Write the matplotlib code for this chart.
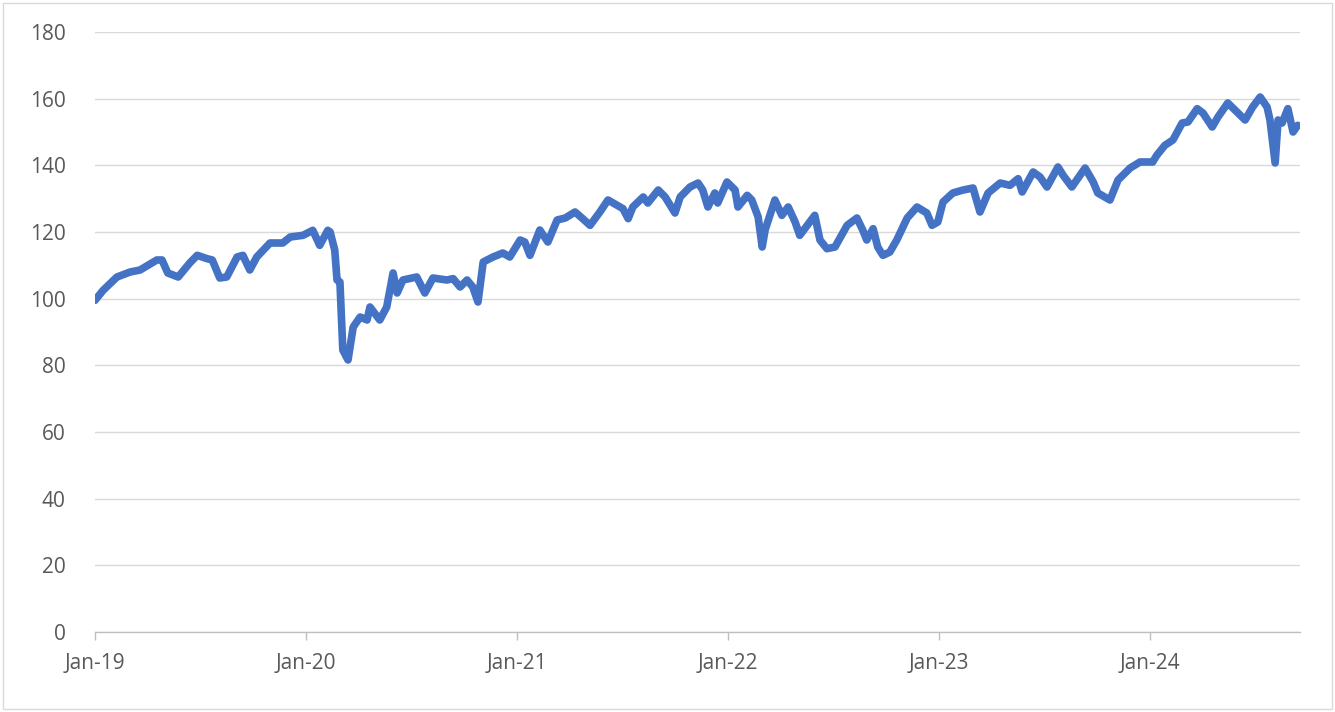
import numpy as np
import pandas as pd
import matplotlib
matplotlib.use("Agg")
import matplotlib.pyplot as plt
import matplotlib.dates as mdates
from matplotlib.patches import Rectangle

# index level (approx.)
dates = [
    "2019-01-01", "2019-01-15", "2019-02-08", "2019-03-03", "2019-03-20", "2019-04-18",
    "2019-04-27", "2019-05-07", "2019-05-25", "2019-06-14", "2019-06-27", "2019-07-14",
    "2019-07-23", "2019-08-05", "2019-08-17", "2019-09-04", "2019-09-14", "2019-09-26",
    "2019-10-08", "2019-10-31", "2019-11-22", "2019-12-05", "2019-12-27", "2020-01-13",
    "2020-01-25", "2020-02-08", "2020-02-12", "2020-02-20", "2020-02-24", "2020-02-29",
    "2020-03-05", "2020-03-14", "2020-03-23", "2020-04-04", "2020-04-16", "2020-04-21",
    "2020-05-08", "2020-05-20", "2020-05-31", "2020-06-07", "2020-06-17", "2020-07-11",
    "2020-07-25", "2020-08-08", "2020-09-01", "2020-09-12", "2020-09-24", "2020-10-06",
    "2020-10-16", "2020-10-25", "2020-11-03", "2020-11-20", "2020-12-07", "2020-12-19",
    "2021-01-06", "2021-01-14", "2021-01-23", "2021-02-09", "2021-02-23", "2021-03-11",
    "2021-03-25", "2021-04-11", "2021-04-23", "2021-05-07", "2021-05-24", "2021-06-07",
    "2021-06-23", "2021-07-03", "2021-07-12", "2021-07-20", "2021-08-07", "2021-08-15",
    "2021-09-02", "2021-09-14", "2021-10-01", "2021-10-10", "2021-10-27", "2021-11-10",
    "2021-11-18", "2021-11-27", "2021-12-09", "2021-12-14", "2021-12-30", "2022-01-13",
    "2022-01-18", "2022-02-03", "2022-02-11", "2022-02-22", "2022-03-01", "2022-03-06",
    "2022-03-23", "2022-04-04", "2022-04-15", "2022-04-27", "2022-05-05", "2022-05-18",
    "2022-05-31", "2022-06-09", "2022-06-21", "2022-07-05", "2022-07-26", "2022-08-12",
    "2022-08-22", "2022-08-29", "2022-09-09", "2022-09-17", "2022-09-26", "2022-10-08",
    "2022-10-20", "2022-11-07", "2022-11-24", "2022-12-11", "2022-12-20", "2022-12-30",
    "2023-01-08", "2023-01-25", "2023-02-12", "2023-03-01", "2023-03-13", "2023-03-27",
    "2023-04-17", "2023-05-04", "2023-05-18", "2023-05-25", "2023-06-13", "2023-06-25",
    "2023-07-07", "2023-07-26", "2023-08-04", "2023-08-19", "2023-09-11", "2023-09-25",
    "2023-10-03", "2023-10-24", "2023-11-07", "2023-11-28", "2023-12-15", "2024-01-06",
    "2024-01-13", "2024-01-27", "2024-02-10", "2024-02-26", "2024-03-07", "2024-03-23",
    "2024-04-02", "2024-04-18", "2024-04-28", "2024-05-15", "2024-05-31", "2024-06-14",
    "2024-06-27", "2024-07-10", "2024-07-22", "2024-07-27", "2024-08-05", "2024-08-10",
    "2024-08-17", "2024-08-27", "2024-09-05", "2024-09-13",
]
values = [
    99.5, 102.5, 106.5, 108.0, 108.6, 111.6,
    111.6, 107.7, 106.5, 110.7, 113.0, 112.0,
    111.6, 106.2, 106.5, 112.5, 113.0, 108.6,
    112.5, 116.7, 116.7, 118.5, 119.0, 120.5,
    116.0, 120.5, 120.0, 114.6, 105.6, 105.0,
    84.6, 81.6, 91.5, 94.5, 93.6, 97.5,
    93.6, 97.5, 107.7, 101.7, 105.6, 106.5,
    101.7, 106.2, 105.6, 106.0, 103.5, 105.6,
    103.5, 99.0, 111.0, 112.5, 113.7, 112.5,
    117.6, 117.0, 113.0, 120.6, 117.0, 123.6,
    124.2, 126.0, 124.2, 122.0, 126.0, 129.6,
    128.0, 127.0, 124.0, 127.5, 130.5, 128.7,
    132.6, 130.5, 125.7, 130.5, 133.5, 134.7,
    132.6, 127.5, 131.7, 128.7, 135.0, 132.6,
    127.5, 131.0, 129.6, 124.5, 115.5, 120.6,
    129.6, 125.0, 127.5, 123.0, 119.0, 122.0,
    125.0, 117.6, 115.0, 115.5, 122.0, 124.2,
    120.6, 117.6, 121.0, 115.5, 113.0, 114.0,
    117.6, 124.2, 127.5, 125.7, 122.0, 123.0,
    129.0, 131.7, 132.6, 133.2, 126.0, 131.7,
    134.7, 134.0, 136.0, 132.0, 138.0, 136.5,
    133.5, 139.5, 137.0, 133.5, 139.2, 135.0,
    131.7, 129.6, 135.6, 139.2, 141.0, 141.0,
    143.0, 146.0, 147.6, 152.7, 153.0, 157.0,
    155.7, 151.5, 154.5, 158.7, 156.0, 153.6,
    157.5, 160.5, 157.5, 153.6, 140.7, 153.6,
    152.7, 157.0, 150.0, 152.0,
]
y_ticks = [0, 20, 40, 60, 80, 100, 120, 140, 160, 180]
x_ticks = ["2019-01-01", "2020-01-01", "2021-01-01", "2022-01-01", "2023-01-01", "2024-01-01"]

plt.rcParams['font.family'] = ['Open Sans', 'DejaVu Sans']

x = pd.to_datetime(dates)

fig = plt.figure(figsize=(13.35, 7.12), dpi=100)
ax = fig.add_axes([95 / 1335, 80 / 712, 1205 / 1335, 600 / 712])

ax.plot(x, values, color="#4472C4", linewidth=5.5, solid_joinstyle="round", solid_capstyle="round")

ax.set_ylim(0, 180)
ax.set_yticks(y_ticks)
ax.set_xlim(pd.Timestamp("2019-01-01"), pd.Timestamp("2024-09-17"))
ax.set_xticks(pd.to_datetime(x_ticks))
ax.xaxis.set_major_formatter(mdates.DateFormatter("%b-%y"))

ax.grid(axis="y", color="#D9D9D9", linewidth=1.0)
ax.set_axisbelow(True)
for s in ["top", "right", "left"]:
    ax.spines[s].set_visible(False)
ax.spines["bottom"].set_color("#BFBFBF")
ax.spines["bottom"].set_linewidth(1.0)

ax.tick_params(axis="y", length=0, pad=21, labelsize=15, labelcolor="#595959")
ax.tick_params(axis="x", length=6, width=1, color="#BFBFBF", pad=9, labelsize=15, labelcolor="#595959")

# light grey frame around the whole chart
fig.patches.append(Rectangle((0.002, 0.004), 0.996, 0.992, transform=fig.transFigure,
                             fill=False, edgecolor="#D9D9D9", linewidth=1.0))

fig.savefig("out.png", dpi=100)
